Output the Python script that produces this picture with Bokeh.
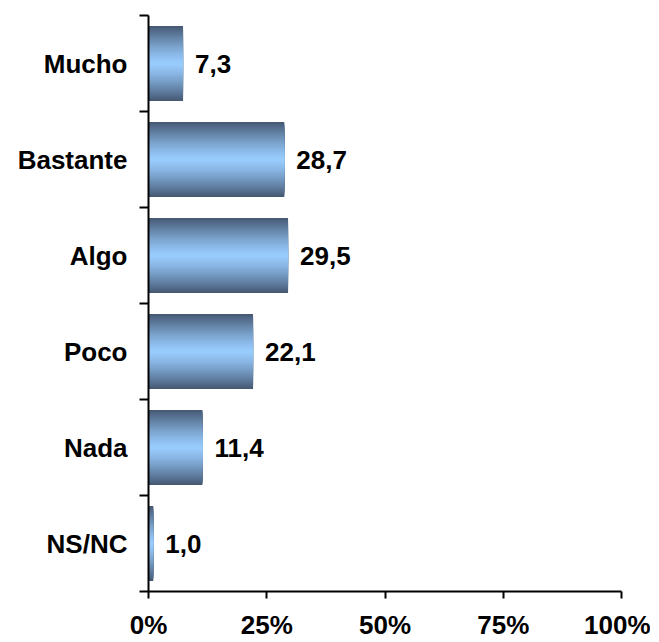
from bokeh.plotting import figure
from bokeh.models import ColumnDataSource, Range1d, LinearAxis, FixedTicker
from bokeh.core.properties import value
from bokeh.embed import file_html
from bokeh.resources import INLINE

categories = ["Mucho", "Bastante", "Algo", "Poco", "Nada", "NS/NC"]
values = [7.3, 28.7, 29.5, 22.1, 11.4, 1.0]
x_ticks = [0, 25, 50, 75, 100]
x_tick_labels = ["0%", "25%", "50%", "75%", "100%"]

FONT = "Liberation Sans"
FS = "26px"
n = len(categories)
ypos = [n - i - 0.5 for i in range(n)]
src = ColumnDataSource(dict(
    y=ypos,
    val=values,
    label=[f"{v:.1f}".replace(".", ",") for v in values],
))

p = figure(width=650, height=642, y_range=Range1d(0, n), x_range=Range1d(0, 100),
           output_backend="svg", toolbar_location=None, y_axis_location=None,
           min_border_left=148, min_border_right=29, min_border_top=15, min_border_bottom=49)
p.outline_line_color = None
p.xgrid.visible = False
p.ygrid.visible = False
p.background_fill_color = "white"
p.border_fill_color = "white"

# gradient bars: nested bars, dark outer to light centre
bar_h = 0.78
N = 30
dark = (0x46, 0x5A, 0x74)
light = (0x99, 0xCC, 0xFF)
for k in range(N):
    t = 1 - k / N
    w = t ** 1.3
    col = tuple(int(round(light[j] * (1 - w) + dark[j] * w)) for j in range(3))
    hexcol = "#%02x%02x%02x" % col
    p.hbar(y="y", left=0, right="val", height=bar_h * t,
           source=src, fill_color=hexcol, line_color=None)

p.text(x="val", y="y", text="label", source=src, x_offset=12, text_baseline="middle",
       text_align="left", text_font=value(FONT), text_font_style="bold", text_font_size=FS,
       text_color="black")

# x axis
xa = p.xaxis[0]
xa.ticker = FixedTicker(ticks=x_ticks)
xa.major_label_overrides = {t: l for t, l in zip(x_ticks, x_tick_labels)}
xa.major_label_text_font = FONT
xa.major_label_text_font_style = "bold"
xa.major_label_text_font_size = FS
xa.major_label_text_color = "black"
xa.axis_line_width = 2
xa.axis_line_color = "black"
xa.major_tick_line_width = 2
xa.major_tick_in = 0
xa.major_tick_out = 7
xa.minor_tick_line_color = None
xa.major_label_standoff = 11

# y axis with ticks at category boundaries
bounds = list(range(n + 1))
ya_ticks = LinearAxis(ticker=FixedTicker(ticks=bounds))
ya_ticks.major_label_overrides = {b: "" for b in bounds}
ya_ticks.major_label_standoff = 0
ya_ticks.axis_line_width = 2
ya_ticks.axis_line_color = "black"
ya_ticks.major_tick_line_width = 2
ya_ticks.major_tick_in = 0
ya_ticks.major_tick_out = 9
ya_ticks.minor_tick_line_color = None
p.add_layout(ya_ticks, "left")

ya_lab = LinearAxis(ticker=FixedTicker(ticks=ypos))
ya_lab.major_label_overrides = {y: c for y, c in zip(ypos, categories)}
ya_lab.axis_line_color = None
ya_lab.major_tick_line_color = None
ya_lab.minor_tick_line_color = None
ya_lab.major_label_standoff = 6
ya_lab.major_label_text_font = FONT
ya_lab.major_label_text_font_style = "bold"
ya_lab.major_label_text_font_size = FS
ya_lab.major_label_text_color = "black"
p.add_layout(ya_lab, "left")

open("out.html", "w").write(file_html(p, INLINE))
